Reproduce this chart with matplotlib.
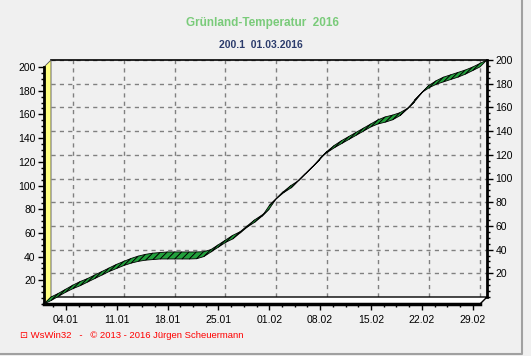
import numpy as np
import pandas as pd
import matplotlib
matplotlib.use('Agg')
import matplotlib.pyplot as plt
import matplotlib.dates as mdates
from matplotlib.ticker import MultipleLocator, AutoMinorLocator
from matplotlib.collections import PolyCollection
from matplotlib.patches import Polygon
from matplotlib.transforms import IdentityTransform

plt.rcParams['font.family'] = ['Liberation Sans', 'DejaVu Sans']

# daily values of the grassland temperature sum, 01.01.2016 - 01.03.2016
days = pd.date_range('2016-01-01', '2016-03-01', freq='D')
gts = [0, 3, 6.5, 10, 13, 15.5, 18.5, 21.5, 24.5, 27.5,
       30, 32.5, 34.5, 36, 37, 37.5, 38, 38, 38, 38,
       38, 38.2, 40, 44, 48, 52, 55, 60, 65, 69,
       74, 83, 89, 94, 98, 104, 110, 116, 123, 128,
       132, 135.5, 139, 142.5, 146, 149.5, 152, 153.5, 155.5, 159,
       164.5, 172, 178.5, 182.5, 185.5, 187.5, 189.5, 191.5, 194, 197,
       200.1]

title = 'Grünland-Temperatur  2016'
subtitle = '200.1  01.03.2016'
footer = '\u22a1 WsWin32   -   \u00a9 2013 - 2016 Jürgen Scheuermann'

W, H = 531, 356
DEPTH = 7  # pixel depth of the 3d frame
BG = '#f0f0f0'

fig = plt.figure(figsize=(W / 100, H / 100), dpi=100, facecolor=BG)

x = mdates.date2num(days)
ymax = 200

# back wall (grid + right axis)
back = fig.add_axes([51 / W, 1 - 297 / H, 436 / W, 237 / H], facecolor=BG, zorder=0)
# front plane (left + bottom axis)
front = fig.add_axes([(51 - DEPTH) / W, 1 - (297 + DEPTH) / H, 436 / W, 237 / H],
                     facecolor='none', zorder=2)

for a in (back, front):
    a.set_xlim(x[0], x[-1])
    a.set_ylim(0, ymax)
    a.xaxis.set_major_locator(mdates.WeekdayLocator(byweekday=mdates.MO))
    a.xaxis.set_major_formatter(mdates.DateFormatter('%d.%m'))
    a.xaxis.set_minor_locator(AutoMinorLocator(4))
    a.yaxis.set_major_locator(MultipleLocator(20))
    a.yaxis.set_minor_locator(MultipleLocator(5))

# back wall styling
back.grid(True, which='major', color='#808080', linestyle=(0, (3, 3)), linewidth=1)
back.yaxis.tick_right()
back.tick_params(axis='y', which='major', direction='out', length=4, width=1,
                 labelsize=7.5, pad=2, colors='black')
back.tick_params(axis='y', which='minor', direction='out', length=2, width=1)
back.tick_params(axis='x', which='both', length=0, labelbottom=False)
back.set_yticks([t for t in range(20, ymax + 1, 20)])
for s in ('left', 'bottom'):
    back.spines[s].set_visible(False)
back.spines['top'].set_linewidth(1.2)
back.spines['right'].set_linewidth(2)

# front plane styling
front.tick_params(axis='y', which='major', direction='out', length=4, width=1,
                  labelsize=7.5, pad=2)
front.tick_params(axis='y', which='minor', direction='out', length=2, width=1)
front.tick_params(axis='x', which='major', direction='out', length=4, width=1,
                  labelsize=7.5, pad=4)
front.tick_params(axis='x', which='minor', direction='out', length=2, width=1)
front.set_yticks([t for t in range(20, ymax + 1, 20)])
for s in ('top', 'right'):
    front.spines[s].set_visible(False)
front.spines['left'].set_linewidth(2)
front.spines['bottom'].set_linewidth(2.5)

# 3d frame pieces (floor and left wall), in pixels
def corners(a):
    return a.transAxes.transform([(0, 0), (1, 0), (1, 1), (0, 1)])

bc = corners(back)
fc = corners(front)
floor = Polygon([fc[0], fc[1], bc[1], bc[0]], closed=True, facecolor='white',
                edgecolor='black', linewidth=1, transform=IdentityTransform(), zorder=1)
wall = Polygon([fc[0], bc[0], bc[3], fc[3]], closed=True, facecolor='#ffff80',
               edgecolor='#505050', linewidth=0.6, transform=IdentityTransform(), zorder=1)
fig.add_artist(floor)
fig.add_artist(wall)

# 3d ribbon for the curve
pts = np.column_stack([x, gts])
pf = front.transData.transform(pts)
pb = back.transData.transform(pts)
quads = [[pf[i], pf[i + 1], pb[i + 1], pb[i]] for i in range(len(pts) - 1)]
ribbon = PolyCollection(quads, facecolor='#22a03c', edgecolor='black', linewidth=0.6,
                        transform=IdentityTransform(), zorder=3)
fig.add_artist(ribbon)

# window frame (right and bottom edge)
fig.add_artist(plt.Line2D([0, 522 / W, 522 / W], [2.5 / H, 2.5 / H, 1], color='#a0a0a0',
                          linewidth=1.5, transform=fig.transFigure))

fig.text(262 / W, 1 - 23 / H, title, ha='center', va='center', fontsize=8.5,
         fontweight='bold', color='#7acb7a')
fig.text(261 / W, 1 - 45 / H, subtitle, ha='center', va='center', fontsize=7.5,
         fontweight='bold', color='#2c3c6c')
fig.text(20 / W, 1 - 336 / H, footer, ha='left', va='center', fontsize=6.8,
         color='#ff0000', family=['Liberation Sans', 'DejaVu Sans'])

fig.savefig('out.png', dpi=100, facecolor=BG)
